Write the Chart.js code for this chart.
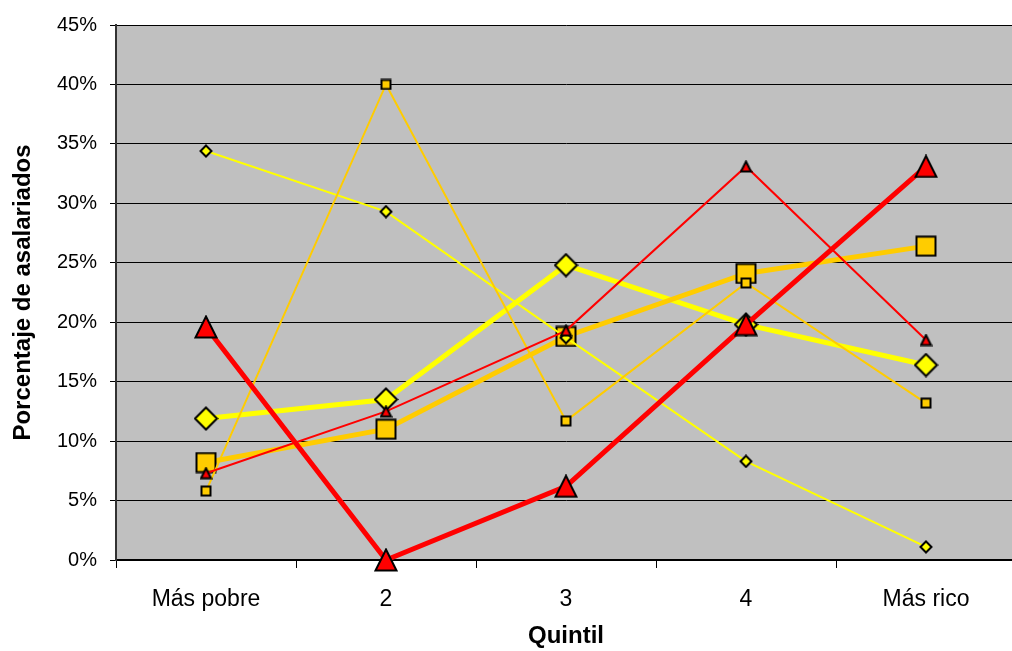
<!DOCTYPE html>
<html>
<head>
<meta charset="utf-8">
<script src="https://cdn.jsdelivr.net/npm/chart.js@4.4.1/dist/chart.umd.min.js"></script>
<style>
  html, body { margin: 0; padding: 0; background: #ffffff; overflow: hidden; }
  #wrap { position: absolute; left: 0; top: 0; width: 1033px; height: 651px; }
</style>
</head>
<body>
<div id="wrap"><canvas id="chart" width="1033" height="651"></canvas></div>
<script>
// Quintiles of household income
const quintiles = ['Más pobre', '2', '3', '4', 'Más rico'];

// Share of wage earners (fraction) per quintile, six series
const rojoGrueso     = [0.196, 0.000, 0.062, 0.198, 0.331];
const rojoFino       = [0.073, 0.125, 0.193, 0.331, 0.185];
const doradoFino     = [0.058, 0.400, 0.117, 0.233, 0.132];
const amarilloFino   = [0.344, 0.293, 0.187, 0.083, 0.011];
const doradoGrueso   = [0.082, 0.110, 0.188, 0.241, 0.264];
const amarilloGrueso = [0.119, 0.135, 0.248, 0.198, 0.164];

// Y axis ticks
const yTicks = [0, 0.05, 0.10, 0.15, 0.20, 0.25, 0.30, 0.35, 0.40, 0.45];

const ROJO = '#FF0000';
const DORADO = '#FFCC00';
const AMARILLO = '#FFFF00';

// Marker images: shapes centred in their own box, filled, black outline
function marker(shape, size, fill, lw) {
  const c = document.createElement('canvas');
  c.width = size; c.height = size;
  const g = c.getContext('2d');
  const m = lw / 2 + 0.5;
  g.beginPath();
  if (shape === 'triangle') {
    g.moveTo(size / 2, m);
    g.lineTo(size - m, size - m);
    g.lineTo(m, size - m);
    g.closePath();
  } else if (shape === 'square') {
    g.rect(m, m, size - 2 * m, size - 2 * m);
  } else {
    g.moveTo(size / 2, m);
    g.lineTo(size - m, size / 2);
    g.lineTo(size / 2, size - m);
    g.lineTo(m, size / 2);
    g.closePath();
  }
  g.fillStyle = fill;
  g.fill();
  g.lineWidth = lw;
  g.lineJoin = 'miter';
  g.strokeStyle = '#000000';
  g.stroke();
  return c;
}

function serie(data, color, width, style) {
  return {
    data: data,
    borderColor: color,
    backgroundColor: color,
    borderWidth: width,
    pointStyle: style,
    pointRadius: 12,
    pointHoverRadius: 12,
    tension: 0,
    fill: false,
    clip: false
  };
}

// Plot-area background
const plotBackground = {
  id: 'plotBackground',
  beforeDraw(chart) {
    const a = chart.chartArea;
    const ctx = chart.ctx;
    ctx.save();
    ctx.fillStyle = '#C0C0C0';
    ctx.fillRect(a.left, a.top, a.right - a.left, a.bottom - a.top);
    ctx.restore();
  }
};

const FONT = "'Liberation Sans', Arial, sans-serif";

new Chart(document.getElementById('chart'), {
  type: 'line',
  data: {
    labels: quintiles,
    // first listed is drawn on top
    datasets: [
      serie(rojoGrueso, ROJO, 5, marker('triangle', 24, ROJO, 2)),
      serie(rojoFino, ROJO, 2, marker('triangle', 13, ROJO, 2)),
      serie(doradoFino, DORADO, 2, marker('square', 12, DORADO, 2)),
      serie(amarilloFino, AMARILLO, 2, marker('diamond', 14, AMARILLO, 2)),
      serie(doradoGrueso, DORADO, 5, marker('square', 22, DORADO, 2)),
      serie(amarilloGrueso, AMARILLO, 5, marker('diamond', 25, AMARILLO, 2))
    ]
  },
  options: {
    responsive: false,
    animation: false,
    events: [],
    layout: { padding: { top: 23, right: 4, left: 0, bottom: 0 } },
    plugins: {
      legend: { display: false },
      tooltip: { enabled: false }
    },
    scales: {
      x: {
        type: 'category',
        offset: true,
        grid: {
          offset: true,
          drawOnChartArea: false,
          drawTicks: true,
          tickLength: 8,
          tickWidth: 1,
          tickColor: '#000000'
        },
        border: { display: true, color: '#000000', width: 2 },
        ticks: {
          color: '#000000',
          font: { family: FONT, size: 23 },
          padding: 18,
          maxRotation: 0,
          autoSkip: false
        },
        title: {
          display: true,
          text: 'Quintil',
          color: '#000000',
          font: { family: FONT, size: 24, weight: 'bold' },
          padding: { top: 9, bottom: 0 }
        },
        afterFit(scale) { scale.height = 91; }
      },
      y: {
        min: 0,
        max: 0.45,
        afterBuildTicks(scale) { scale.ticks = yTicks.map(v => ({ value: v })); },
        grid: {
          color: '#000000',
          lineWidth: 1,
          drawTicks: true,
          tickLength: 6,
          tickColor: '#000000'
        },
        border: { display: true, color: '#333333', width: 2 },
        ticks: {
          color: '#000000',
          font: { family: FONT, size: 20 },
          padding: 13,
          callback: v => Math.round(v * 100) + '%'
        },
        title: {
          display: true,
          text: 'Porcentaje de asalariados',
          color: '#000000',
          font: { family: FONT, size: 24, weight: 'bold' },
          padding: { top: 9, bottom: 3 }
        },
        afterFit(scale) { scale.width = 116; }
      }
    }
  },
  plugins: [plotBackground]
});
</script>
</body>
</html>
